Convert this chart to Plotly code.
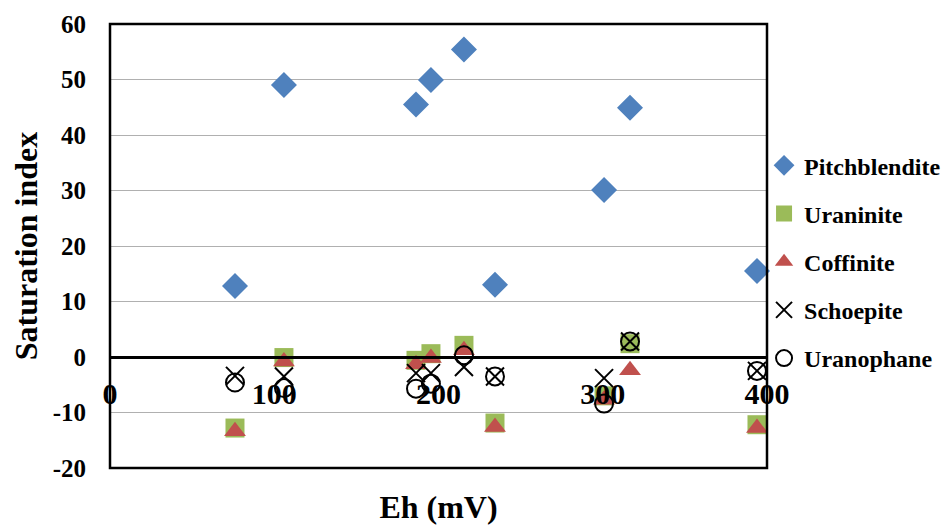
import plotly.graph_objects as go

eh = [76.1, 105.9, 186.3, 195.4, 215.5, 234.4, 300.8, 316.6, 393.9]
pitchblendite = [12.8, 49.0, 45.5, 49.9, 55.4, 13.0, 30.1, 44.9, 15.5]
uraninite = [-12.8, -0.1, -0.6, 0.6, 2.1, -11.9, -7.0, 2.4, -12.2]
coffinite = [-13.4, -0.8, -1.3, -0.2, 1.2, -12.6, -7.7, -2.4, -12.8]
schoepite = [-3.4, -3.5, -2.9, -2.9, -1.8, -3.5, -3.8, 2.8, -2.5]
uranophane = [-4.6, -5.6, -5.7, -4.8, 0.3, -3.5, -8.4, 2.8, -2.5]

x_ticks = [0, 100, 200, 300, 400]
y_ticks = [-20, -10, 0, 10, 20, 30, 40, 50, 60]
y_ticktext = [str(v) for v in y_ticks]

FONT = "Liberation Serif, 'Times New Roman', DejaVu Serif, serif"

series = [
    ("Pitchblendite", pitchblendite, dict(symbol="diamond", size=20, color="#4F81BD")),
    ("Uraninite", uraninite, dict(symbol="square", size=19, color="#9BBB59")),
    ("Coffinite", coffinite, dict(symbol="triangle-up", size=19, color="#C0504D")),
    ("Schoepite", schoepite, dict(symbol="x-thin-open", size=18, color="black",
                                  line=dict(color="black", width=2))),
    ("Uranophane", uranophane, dict(symbol="circle-open", size=18, color="black",
                                    line=dict(color="black", width=2))),
]

fig = go.Figure()
for i, (name, vals, mk) in enumerate(series):
    fig.add_trace(go.Scatter(x=eh, y=vals, mode="markers", name=f"<b>{name}</b>",
                             marker=mk, legendgroup=f"g{i}", cliponaxis=False))

fig.update_layout(
    width=943, height=517,
    paper_bgcolor="white", plot_bgcolor="white",
    margin=dict(l=102, r=184, t=16, b=57, autoexpand=False),
    font=dict(family=FONT, color="black"),
    showlegend=True,
    legend=dict(x=0.9955, xanchor="left", y=0.7315, yanchor="top",
                font=dict(family=FONT, size=24, color="black"),
                traceorder="grouped", tracegroupgap=14,
                bgcolor="rgba(0,0,0,0)", itemsizing="trace"),
    xaxis=dict(range=[0, 400], tickvals=x_ticks, showgrid=False,
               zeroline=False, showline=True, linecolor="black", linewidth=2.5,
               anchor="free", position=0.25,
               ticks="outside", ticklen=9, tickcolor="rgba(0,0,0,0)",
               tickfont=dict(family=FONT, size=30, color="black", weight="bold"),
               title=dict(text="Eh (mV)", standoff=96,
                          font=dict(family=FONT, size=32, color="black", weight="bold")),
               automargin=False),
    yaxis=dict(range=[-20, 60], tickvals=y_ticks, ticktext=y_ticktext, showgrid=True,
               gridcolor="#B0B0B0", gridwidth=1.4, zeroline=False,
               showline=False,
               ticks="outside", ticklen=18, tickcolor="rgba(0,0,0,0)",
               tickfont=dict(family=FONT, size=25, color="black", weight="bold"),
               title=dict(text="Saturation index", standoff=19,
                          font=dict(family=FONT, size=32, color="black", weight="bold")),
               automargin=False),
)

fig.add_shape(type="rect", xref="paper", yref="paper", x0=0, x1=1, y0=0, y1=1,
              line=dict(color="black", width=2.5), layer="above")

fig.write_html("out.html")
